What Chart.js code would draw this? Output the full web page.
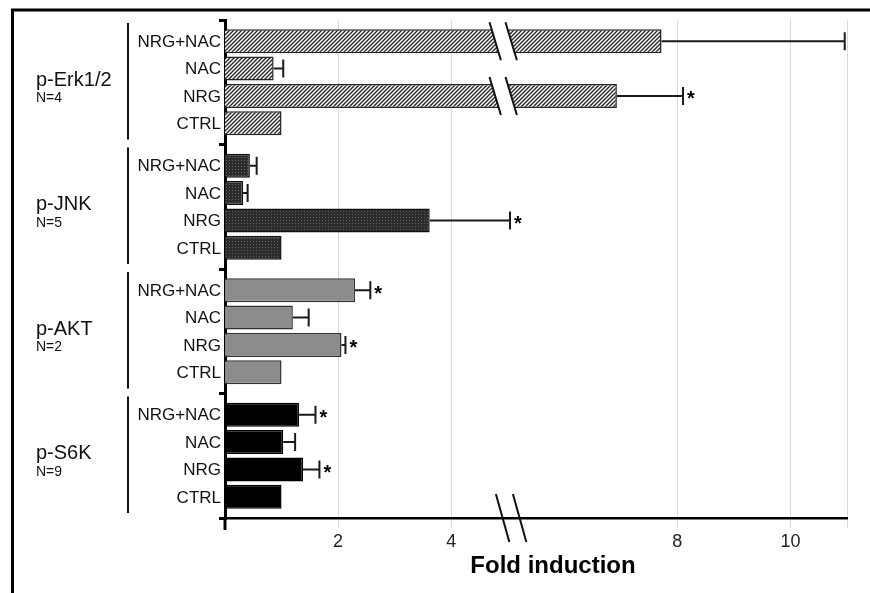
<!DOCTYPE html>
<html>
<head>
<meta charset="utf-8">
<script src="https://cdn.jsdelivr.net/npm/chart.js@4.4.0/dist/chart.umd.min.js"></script>
<style>
  html, body { margin: 0; padding: 0; background: #fff; }
  canvas { display: block; }
</style>
</head>
<body>
<canvas id="myChart" width="870" height="593"></canvas>
<script>
// groups (y axis) and conditions (one dataset each)
var groups = ['p-Erk1/2', 'p-JNK', 'p-AKT', 'p-S6K'];
var groupN = ['N=4', 'N=5', 'N=2', 'N=9'];
var conditions = ['NRG+NAC', 'NAC', 'NRG', 'CTRL'];

// fold induction, order = groups
var nrgNac = [7.72, 0.44, 2.30, 1.31];
var nac    = [0.86, 0.32, 1.20, 1.03];
var nrg    = [6.93, 3.62, 2.06, 1.38];
var ctrl   = [1.0, 1.0, 1.0, 1.0];

// upper error bars
var nrgNacErr = [3.24, 0.12, 0.27, 0.29];
var nacErr    = [0.17, 0.08, 0.28, 0.21];
var nrgErr    = [1.17, 1.42, 0.07, 0.29];
var ctrlErr   = [0, 0, 0, 0];

// significance stars
var nrgNacSig = [false, false, true, true];
var nacSig    = [false, false, false, false];
var nrgSig    = [true, true, true, true];
var ctrlSig   = [false, false, false, false];

var xTicks = [2, 4, 8, 10];
var xMax = 11;
var barBreak = 4.92;   // where the long bars are cut
var axisBreak = 5.06;  // break mark on the x axis

var FONT = '"Liberation Sans", Arial, sans-serif';

/*patterns------------------------------*/
function makeHatch() {
  var c = document.createElement('canvas'); c.width = 4; c.height = 4;
  var g = c.getContext('2d');
  g.fillStyle = '#fff'; g.fillRect(0, 0, 4, 4);
  g.strokeStyle = '#222'; g.lineWidth = 1.3;
  g.beginPath();
  g.moveTo(0, 4); g.lineTo(4, 0);
  g.moveTo(-1, 1); g.lineTo(1, -1);
  g.moveTo(3, 5); g.lineTo(5, 3);
  g.stroke();
  return g.createPattern(c, 'repeat');
}
function makeStipple() {
  var c = document.createElement('canvas'); c.width = 3; c.height = 3;
  var g = c.getContext('2d');
  g.fillStyle = '#2c2c2c'; g.fillRect(0, 0, 3, 3);
  g.fillStyle = '#5e5e5e'; g.fillRect(1, 1, 1, 1);
  return g.createPattern(c, 'repeat');
}

var fills = [makeHatch(), makeStipple(), '#8c8c8c', '#000'];
var edges = ['#222', '#111', '#333', '#000'];

var values = [nrgNac, nac, nrg, ctrl];
var errs = [nrgNacErr, nacErr, nrgErr, ctrlErr];
var sigs = [nrgNacSig, nacSig, nrgSig, ctrlSig];

/*extra drawing------------------------------*/
var extras = {
  id: 'extras',
  afterDatasetsDraw: function(chart) {
    var ctx = chart.ctx, xs = chart.scales.x;
    ctx.save();
    chart.data.datasets.forEach(function(ds, di) {
      var meta = chart.getDatasetMeta(di);
      meta.data.forEach(function(bar, gi) {
        var cy = bar.y;
        // cut long bars
        if (ds.data[gi] > barBreak) {
          var bx = xs.getPixelForValue(barBreak), k = 0.3;
          var top = cy - bar.height / 2 - 1, bot = cy + bar.height / 2 + 1;
          ctx.fillStyle = '#fff';
          ctx.beginPath();
          ctx.moveTo(bx - 8 + (top - cy) * k, top);
          ctx.lineTo(bx + 8 + (top - cy) * k, top);
          ctx.lineTo(bx + 8 + (bot - cy) * k, bot);
          ctx.lineTo(bx - 8 + (bot - cy) * k, bot);
          ctx.closePath(); ctx.fill();
          ctx.strokeStyle = '#111'; ctx.lineWidth = 2;
          ctx.beginPath();
          [-8, 8].forEach(function(o) {
            ctx.moveTo(bx + o - 19 * k, cy - 19);
            ctx.lineTo(bx + o + 19 * k, cy + 19);
          });
          ctx.stroke();
        }
        var e = ds.err[gi];
        if (e > 0) {
          var x1 = xs.getPixelForValue(ds.data[gi] + e);
          ctx.strokeStyle = '#1a1a1a'; ctx.lineWidth = 2;
          ctx.beginPath();
          ctx.moveTo(bar.x, cy); ctx.lineTo(x1, cy);
          ctx.moveTo(x1, cy - 9); ctx.lineTo(x1, cy + 9);
          ctx.stroke();
          if (ds.sig[gi]) {
            ctx.fillStyle = '#000';
            ctx.font = 'bold 20px ' + FONT;
            ctx.textAlign = 'left'; ctx.textBaseline = 'middle';
            ctx.fillText('*', x1 + 4, cy + 4);
          }
        }
      });
    });
    ctx.restore();
  },
  afterDraw: function(chart) {
    var ctx = chart.ctx, ca = chart.chartArea, xs = chart.scales.x, ys = chart.scales.y;
    ctx.save();
    // frame
    ctx.strokeStyle = '#000'; ctx.lineWidth = 3;
    ctx.beginPath();
    ctx.moveTo(12.5, 593); ctx.lineTo(12.5, 10); ctx.lineTo(870, 10);
    ctx.stroke();
    // y axis continues below x axis
    ctx.beginPath(); ctx.moveTo(ca.left, ca.bottom); ctx.lineTo(ca.left, ca.bottom + 12); ctx.stroke();
    // x axis break
    var ax = xs.getPixelForValue(axisBreak), k = 0.28;
    ctx.lineWidth = 2; ctx.strokeStyle = '#111';
    ctx.beginPath();
    [-8.5, 8.5].forEach(function(o) {
      ctx.moveTo(ax + o - 24 * k, ca.bottom - 24);
      ctx.lineTo(ax + o + 24 * k, ca.bottom + 24);
    });
    ctx.stroke();
    // bar labels
    ctx.fillStyle = '#111';
    ctx.font = '17px ' + FONT; ctx.textAlign = 'right'; ctx.textBaseline = 'middle';
    chart.data.datasets.forEach(function(ds, di) {
      chart.getDatasetMeta(di).data.forEach(function(bar) {
        ctx.fillText(conditions[di], ca.left - 4, bar.y + 1);
      });
    });
    // group labels and brackets
    var half = (ys.getPixelForValue(1) - ys.getPixelForValue(0)) / 2;
    groups.forEach(function(g, gi) {
      var cy = ys.getPixelForValue(gi);
      ctx.textAlign = 'left';
      ctx.font = '20px ' + FONT;
      ctx.fillText(g, 36, cy - 2);
      ctx.font = '14px ' + FONT;
      ctx.fillText(groupN[gi], 36, cy + 16);
      ctx.strokeStyle = '#111'; ctx.lineWidth = 2;
      ctx.beginPath();
      ctx.moveTo(128, cy - half + 3); ctx.lineTo(128, cy + half - 5);
      ctx.stroke();
    });
    // axis title
    ctx.font = 'bold 24px ' + FONT; ctx.textAlign = 'center'; ctx.fillStyle = '#000';
    ctx.fillText('Fold induction', (ca.left + ca.right) / 2 + 17, 566);
    ctx.restore();
  }
};

var ctx = document.getElementById('myChart').getContext('2d');
var myChart = new Chart(ctx, {
  type: 'bar',
  data: {
    labels: groups,
    datasets: conditions.map(function(c, i) {
      return {
        label: c,
        data: values[i],
        err: errs[i],
        sig: sigs[i],
        backgroundColor: fills,
        borderColor: edges,
        borderWidth: 1.5,
        categoryPercentage: 0.88,
        barPercentage: 0.875
      };
    })
  },
  options: {
    indexAxis: 'y',
    responsive: false,
    animation: false,
    devicePixelRatio: 1,
    layout: { padding: { top: 20, right: 23, left: 0, bottom: 0 } },
    plugins: { legend: { display: false }, tooltip: { enabled: false } },
    scales: {
      x: {
        type: 'linear', min: 0, max: xMax,
        afterBuildTicks: function(s) {
          s.ticks = xTicks.concat([xMax]).map(function(v) { return { value: v }; });
        },
        ticks: {
          callback: function(v) { return xTicks.indexOf(v) >= 0 ? String(v) : ''; },
          font: { size: 18, family: FONT }, color: '#222', padding: 3,
          maxRotation: 0, autoSkip: false
        },
        grid: { color: '#d9d9d9', lineWidth: 1, drawTicks: true, tickLength: 10 },
        border: { color: '#000', width: 2.5 },
        afterFit: function(s) { s.height = 75; }
      },
      y: {
        type: 'category', offset: true,
        ticks: { display: false },
        grid: { offset: true, drawOnChartArea: false, drawTicks: true, tickLength: 6, color: '#000', lineWidth: 3 },
        border: { color: '#000', width: 3 },
        afterFit: function(s) { s.width = 225; }
      }
    }
  },
  plugins: [extras]
});
</script>
</body>
</html>
